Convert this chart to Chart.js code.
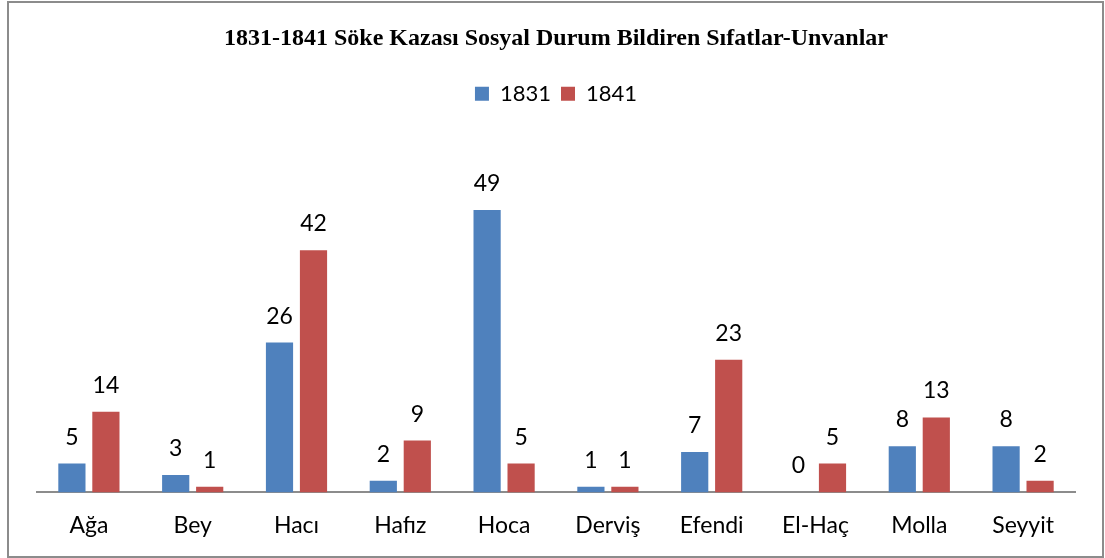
<!DOCTYPE html>
<html>
<head>
<meta charset="utf-8">
<script src="https://cdn.jsdelivr.net/npm/chart.js@4"></script>
<style>
  html, body { margin: 0; padding: 0; background: #fff; }
  #wrap { position: relative; width: 1105px; height: 558px; }
  #frame { position: absolute; left: 7px; top: 1px; width: 1097px; height: 557px; box-sizing: border-box; border: 2px solid #8c8c8c; pointer-events: none; }
</style>
</head>
<body>
<div id="wrap">
  <canvas id="chart" width="1105" height="558"></canvas>
  <div id="frame"></div>
</div>
<script>
// veri
const categories = ['Ağa', 'Bey', 'Hacı', 'Hafız', 'Hoca', 'Derviş', 'Efendi', 'El-Haç', 'Molla', 'Seyyit'];
const values1831 = [5, 3, 26, 2, 49, 1, 7, 0, 8, 8];
const values1841 = [14, 1, 42, 9, 5, 1, 23, 5, 13, 2];

const labelFont = 'Lato, "Open Sans", sans-serif';

// değer etiketleri (barların üstüne)
const valueLabels = {
  id: 'valueLabels',
  afterDatasetsDraw(chart) {
    const ctx = chart.ctx;
    ctx.save();
    ctx.font = '23px ' + labelFont;
    ctx.fillStyle = '#000';
    ctx.textAlign = 'center';
    ctx.textBaseline = 'alphabetic';
    chart.data.datasets.forEach((ds, i) => {
      chart.getDatasetMeta(i).data.forEach((bar, j) => {
        ctx.fillText(String(ds.data[j]), bar.x, bar.y - 19);
      });
    });
    ctx.restore();
  }
};

new Chart(document.getElementById('chart'), {
  type: 'bar',
  data: {
    labels: categories,
    datasets: [
      { label: '1831', data: values1831, backgroundColor: '#4F81BD' },
      { label: '1841', data: values1841, backgroundColor: '#C0504D' }
    ]
  },
  options: {
    responsive: false,
    animation: false,
    devicePixelRatio: 1,
    datasets: { bar: { categoryPercentage: 0.655, barPercentage: 0.8 } },
    layout: { padding: { left: 37, right: 30, top: 0, bottom: 0 } },
    plugins: {
      title: {
        display: true,
        text: '1831-1841 Söke Kazası Sosyal Durum Bildiren Sıfatlar-Unvanlar',
        color: '#000',
        font: { family: '"Liberation Serif", "Times New Roman", serif', size: 24, weight: 'bold' },
        padding: { top: 24, bottom: 20 }
      },
      legend: {
        position: 'top',
        labels: { boxWidth: 14, boxHeight: 14, color: '#000', font: { family: labelFont, size: 22 }, padding: 10 }
      },
      tooltip: { enabled: false }
    },
    scales: {
      x: {
        grid: { display: false, drawTicks: false },
        border: { color: '#8c8c8c', width: 2 },
        ticks: { color: '#000', font: { family: labelFont, size: 23 }, padding: 19 }
      },
      y: { display: false, min: 0, max: 65.5 }
    }
  },
  plugins: [valueLabels]
});
</script>
</body>
</html>
